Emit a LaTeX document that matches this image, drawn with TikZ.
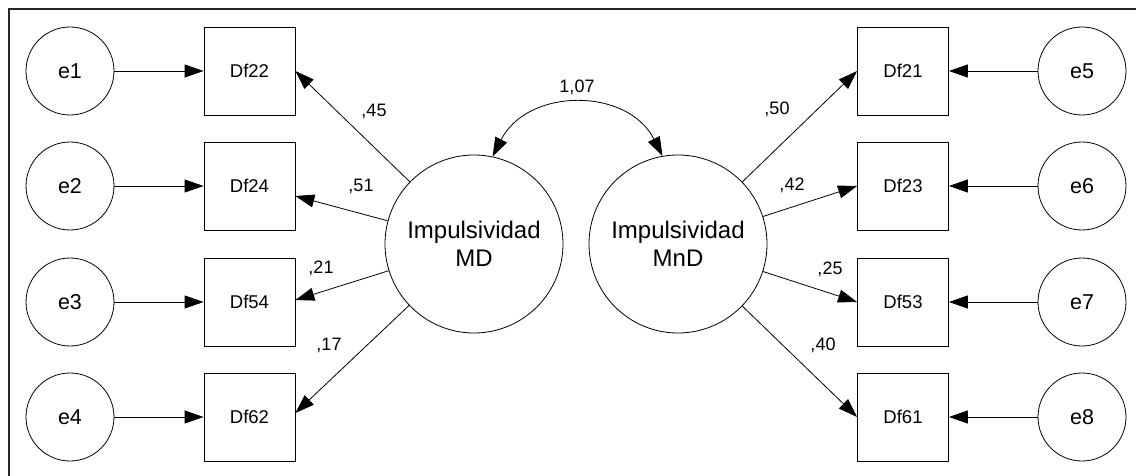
\documentclass[tikz,border=0pt]{standalone}
\usepackage{fontspec}
\setmainfont{Liberation Sans}
\usetikzlibrary{arrows.meta}
\begin{document}
\begin{tikzpicture}[x=1pt,y=-1pt,
  err/.style={draw, circle, minimum size=88pt, inner sep=0pt, line width=0.8pt, font=\fontsize{21.5}{26}\selectfont},
  obs/.style={draw, rectangle, minimum width=91pt, minimum height=88pt, inner sep=0pt, line width=0.8pt, font=\fontsize{18.5}{22}\selectfont},
  lat/.style={draw, circle, minimum size=178pt, inner sep=0pt, line width=0.8pt, align=center, font=\fontsize{24}{28.3}\selectfont},
  coef/.style={anchor=base, inner sep=0pt, font=\fontsize{18}{22}\selectfont},
  tipstyle/.style={Triangle[length=19pt,width=13pt]},
  arr/.style={-{Triangle[length=19pt,width=13pt]}, line width=0.8pt},
  dblarr/.style={{Triangle[length=19pt,width=13pt]}-{Triangle[length=19pt,width=13pt]}, line width=0.8pt},
  frameline/.style={line width=2.5pt, black!85}
]
\useasboundingbox (0,0) rectangle (1136,476);
% frame (top and left)
\coordinate (tr) at (1136,9);
\coordinate (tl) at (9,9);
\coordinate (bl) at (9,476);
\draw[frameline] (tr) -- (tl) -- (bl);

% left errors and indicators
\node[err] (e1) at (70,71) {e1};
\node[err] (e2) at (70,186) {e2};
\node[err] (e3) at (70,302) {e3};
\node[err] (e4) at (70,417) {e4};
\node[obs] (d22) at (249.5,71) {Df22};
\node[obs] (d24) at (249.5,186) {Df24};
\node[obs] (d54) at (249.5,302) {Df54};
\node[obs] (d62) at (249.5,417) {Df62};

% latent factors
\node[lat] (MD) at (474,244) {Impulsividad\\MD};
\node[lat] (MnD) at (678,244) {Impulsividad\\MnD};

% right indicators and errors
\node[obs] (d21) at (903,71) {Df21};
\node[obs] (d23) at (903,186) {Df23};
\node[obs] (d53) at (903,302) {Df53};
\node[obs] (d61) at (903,417) {Df61};
\node[err] (e5) at (1082,71) {e5};
\node[err] (e6) at (1082,186) {e6};
\node[err] (e7) at (1082,302) {e7};
\node[err] (e8) at (1082,417) {e8};

% error arrows
\draw[arr] (e1) -- (d22);
\draw[arr] (e2) -- (d24);
\draw[arr] (e3) -- (d54);
\draw[arr] (e4) -- (d62);
\draw[arr] (e5) -- (d21);
\draw[arr] (e6) -- (d23);
\draw[arr] (e7) -- (d53);
\draw[arr] (e8) -- (d61);

% loadings
\draw[arr] (MD) -- (d22.east);
\draw[arr] (MD) -- ([yshift=-10pt]d24.east);
\draw[arr] (MD) -- ([yshift=2pt]d54.east);
\draw[arr] (MD) -- ([yshift=4pt]d62.east);
\draw[arr] (MnD) -- (d21.west);
\draw[arr] (MnD) -- (d23.west);
\draw[arr] (MnD) -- (d53.west);
\draw[arr] (MnD) -- (d61.west);

% covariance
\draw[dblarr] (MD.78) .. controls +(35,-69) and +(-35,-69) .. (MnD.100);

% coefficients
\node[coef] (c107) at (577,92.3) {1,07};
\node[coef] (c45) at (374,116.5) {,45};
\node[coef] (c51) at (361,191.7) {,51};
\node[coef] (c21) at (321,273.3) {,21};
\node[coef] (c17) at (329,350) {,17};
\node[coef] (c50) at (777,115) {,50};
\node[coef] (c42) at (792,190) {,42};
\node[coef] (c25) at (830,274) {,25};
\node[coef] (c40) at (823,350) {,40};
\end{tikzpicture}
\end{document}
